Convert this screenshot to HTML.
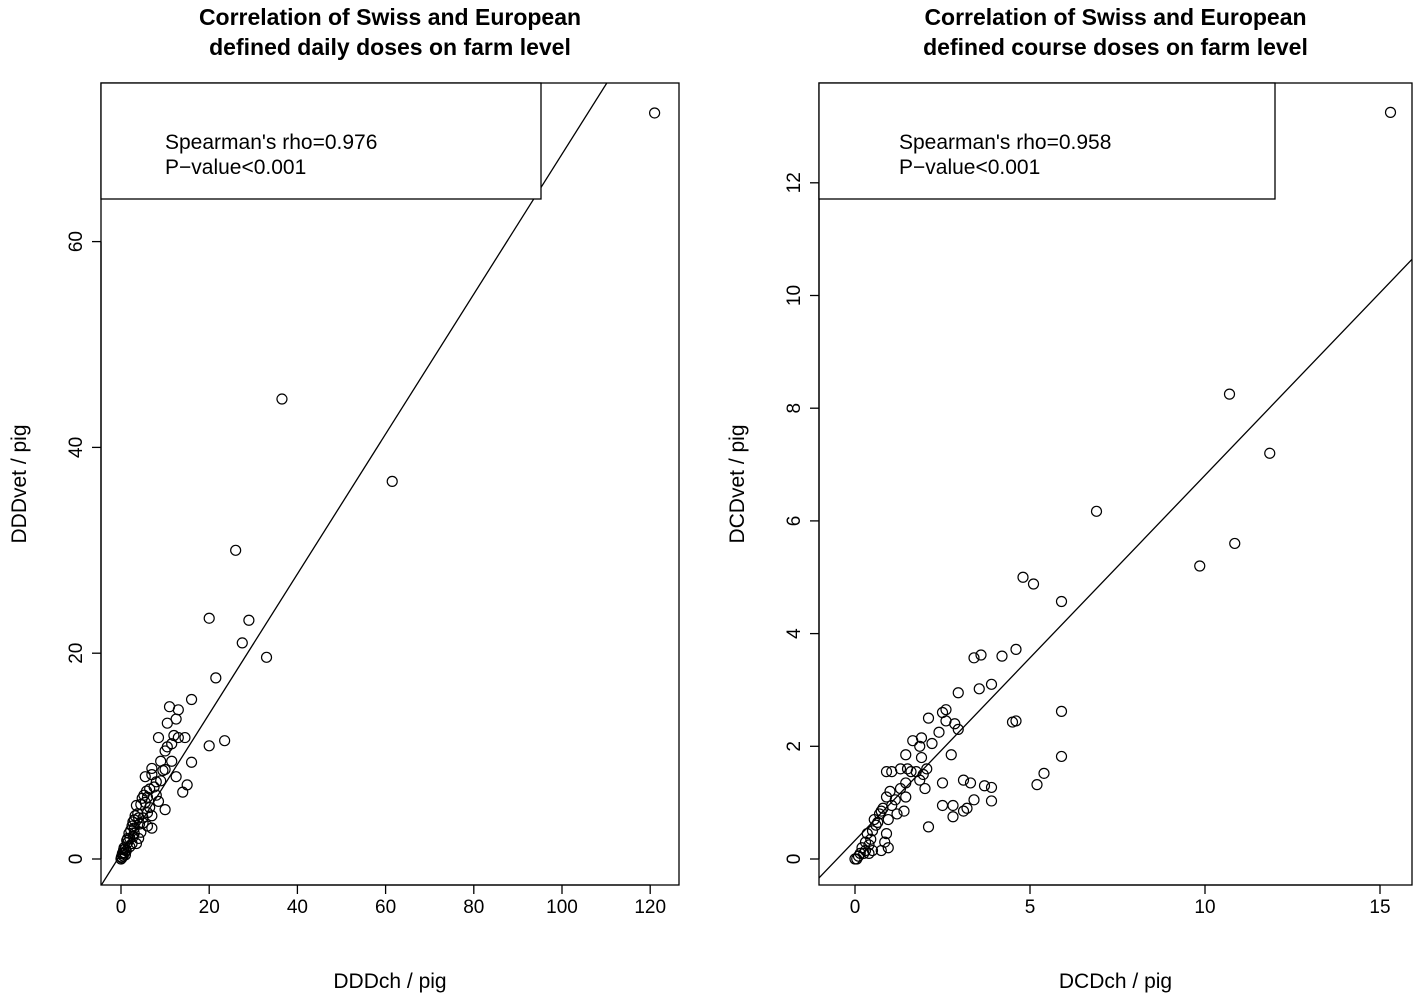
<!DOCTYPE html>
<html><head><meta charset="utf-8"><style>
body{margin:0;background:#fff}
svg{display:block;font-family:"Liberation Sans",Arial,sans-serif}
</style></head><body>
<svg id="s" width="1418" height="996" viewBox="0 0 1418 996"></svg>
<script>
const leftX=[121,36.5,61.5,26,20,29,27.5,21.5,33,16,23.5,20,16,15,14,11,13,12.5,10.5,12,14.5,13,11.5,10.5,8.5,10,11.5,9,12.5,10,7,7,5.5,9,8.5,10,6,5.5,4.5,3.5,6,7,5,4,3,2.5,3,6,7,4,2,1.5,2,1,0.8,0.5,0.2,0,1.2,2.5,3.5,4.5,3,5,6.5,7.5,8,3.8,2.8,1.8,0.6,1,0.3,1.5,2.2,4.2,5.2,6.5,8,9.5,0.1,0.4,0.7,1.3,2.7,3.2,4.8,5.8];
const leftY=[72.5,44.7,36.7,30,23.4,23.2,21,17.6,19.6,15.5,11.5,11,9.4,7.2,6.5,14.8,14.5,13.6,13.2,12,11.8,11.8,11.2,10.9,11.8,10.5,9.5,9.5,8,8.7,8.8,8.2,8,7.6,5.6,4.8,6,5.5,5.3,5.2,4.5,4.2,4,4,3.8,3.2,2.5,3.2,3,2,2,1.6,1.2,1,0.6,0.3,0.1,0,0.8,1.5,1.5,2.6,3,3.5,6.8,7,6.2,4.4,2.2,2.5,0.9,0.4,0.5,2,2.8,3.4,6.2,5,7.5,8.6,0.2,0.6,1.1,1.8,3.6,4.2,5.9,6.6];
const rightX=[15.3,10.7,11.85,10.85,9.85,6.9,4.8,5.1,5.9,4.6,3.6,3.4,4.2,3.9,3.55,2.95,4.5,4.6,5.9,5.9,5.4,5.2,3.9,3.7,3.9,3.4,3.1,3.3,3.2,3.1,2.8,2.8,2.5,2.5,2.1,2.75,2.85,2.95,2.5,2.6,2.6,2.4,2.1,2.2,1.9,1.65,1.85,1.9,2.05,1.75,1.95,1.85,2.0,1.45,1.5,1.3,1.6,1.05,0.9,1.45,1.3,1.45,1.0,1.15,0.9,1.4,1.2,1.05,0.95,0.8,0.9,0.85,0.95,0.75,0.7,0.6,0.5,0.45,0.4,0.35,0.3,0.2,0.15,0.1,0.05,0,0.25,0.5,0.55,0.65,0.75,0.3,0.4];
const rightY=[13.25,8.25,7.2,5.6,5.2,6.17,5,4.88,4.57,3.72,3.62,3.57,3.6,3.1,3.02,2.95,2.43,2.45,2.62,1.82,1.52,1.32,1.27,1.3,1.03,1.05,1.4,1.35,0.9,0.85,0.95,0.75,0.95,1.35,0.57,1.85,2.4,2.3,2.6,2.65,2.45,2.25,2.5,2.05,2.15,2.1,2.0,1.8,1.6,1.55,1.5,1.4,1.25,1.85,1.6,1.6,1.55,1.55,1.55,1.35,1.25,1.1,1.2,1.05,1.1,0.85,0.8,0.95,0.7,0.9,0.45,0.3,0.2,0.15,0.8,0.6,0.5,0.35,0.25,0.45,0.3,0.2,0.1,0.05,0,0,0.1,0.15,0.7,0.65,0.85,0.15,0.1];
const leftXTicks=[0,20,40,60,80,100,120], leftYTicks=[0,20,40,60];
const rightXTicks=[0,5,10,15], rightYTicks=[0,2,4,6,8,10,12];
const leftFit=[0.5,0.68], rightFit=[0.33,0.648];

const svg=document.getElementById('s');
const NS='http://www.w3.org/2000/svg';
function mk(t,a,p){const e=document.createElementNS(NS,t);for(const k in a)e.setAttribute(k,a[k]);(p||svg).appendChild(e);return e;}

function panel(o){
  const g=mk('g',{});
  
  
  const sx=v=>o.x0px+(v-0)*o.kx, sy=v=>o.y0px-v*o.ky;
  const box=mk('rect',{x:o.L,y:o.T,width:o.R-o.L,height:o.B-o.T,fill:'none',stroke:'#000','stroke-width':1.3},g);
  
  const t=mk('text',{x:(o.L+o.R)/2,y:25,'text-anchor':'middle','font-size':23,'font-weight':'bold'},g);
  
  const t1=mk('tspan',{x:(o.L+o.R)/2,dy:0},t);t1.textContent=o.title[0];
  const t2=mk('tspan',{x:(o.L+o.R)/2,dy:30},t);t2.textContent=o.title[1];
  const xa=mk('g',{},g);
  const xt=o.xTicks;
  mk('line',{x1:sx(xt[0]),x2:sx(xt[xt.length-1]),y1:o.B,y2:o.B,stroke:'#000','stroke-width':1.3},xa);
  xt.forEach(v=>{mk('line',{x1:sx(v),x2:sx(v),y1:o.B,y2:o.B+9,stroke:'#000','stroke-width':1.3},xa);
    const l=mk('text',{x:sx(v),y:o.B+28,'text-anchor':'middle','font-size':19},xa);l.textContent=v;
    });
  const xl=mk('text',{x:(o.L+o.R)/2,y:988,'text-anchor':'middle','font-size':21},g);xl.textContent=o.xlab;
  
  const ya=mk('g',{},g);
  const yt=o.yTicks;
  mk('line',{x1:o.L,x2:o.L,y1:sy(yt[0]),y2:sy(yt[yt.length-1]),stroke:'#000','stroke-width':1.3},ya);
  yt.forEach(v=>{mk('line',{x1:o.L,x2:o.L-9,y1:sy(v),y2:sy(v),stroke:'#000','stroke-width':1.3},ya);
    const l=mk('text',{x:o.L-19,y:sy(v),'text-anchor':'middle','font-size':19,transform:`rotate(-90 ${o.L-19} ${sy(v)})`},ya);l.textContent=v;
    });
  const yl=mk('text',{x:o.L-75,y:(o.T+o.B)/2,'text-anchor':'middle','font-size':21,transform:`rotate(-90 ${o.L-75} ${(o.T+o.B)/2})`},g);yl.textContent=o.ylab;
  
  const cid='c'+o.name;
  const cp=mk('clipPath',{id:cid},g);mk('rect',{x:o.L,y:o.T,width:o.R-o.L,height:o.B-o.T},cp);
  const pts=mk('g',{'clip-path':`url(#${cid})`},g);
  o.xs.forEach((x,i)=>{const c=mk('circle',{cx:sx(x),cy:sy(o.ys[i]),r:5,fill:'none',stroke:'#000','stroke-width':1.2},pts);
    });
  const xmin=(o.L-o.x0px)/o.kx, xmax=(o.R-o.x0px)/o.kx;
  const fl=mk('line',{x1:sx(xmin),y1:sy(o.fit[0]+o.fit[1]*xmin),x2:sx(xmax),y2:sy(o.fit[0]+o.fit[1]*xmax),stroke:'#000','stroke-width':1.3,'clip-path':`url(#${cid})`},g);
  
  const lg=mk('g',{},g);
  mk('rect',{x:o.L,y:o.T,width:o.legW,height:116,fill:'#fff',stroke:'#000','stroke-width':1.3},lg);
  const a=mk('text',{x:o.L+o.legPad,y:149,'font-size':21},lg);a.textContent=o.rho;
  const b=mk('text',{x:o.L+o.legPad,y:174,'font-size':21},lg);b.textContent='P\u2212value<0.001';
}
panel({name:'left-panel',L:101,R:679,T:83,B:885,x0px:121,kx:4.41,y0px:859,ky:10.29,
  xTicks:leftXTicks,yTicks:leftYTicks,xs:leftX,ys:leftY,fit:leftFit,legW:440,legPad:64,
  title:['Correlation of Swiss and European','defined daily doses on farm level'],
  xlab:'DDDch / pig',ylab:'DDDvet / pig',rho:"Spearman's rho=0.976"});
panel({name:'right-panel',L:819,R:1412,T:83,B:885,x0px:855,kx:35,y0px:859,ky:56.35,
  xTicks:rightXTicks,yTicks:rightYTicks,xs:rightX,ys:rightY,fit:rightFit,legW:456,legPad:80,
  title:['Correlation of Swiss and European','defined course doses on farm level'],
  xlab:'DCDch / pig',ylab:'DCDvet / pig',rho:"Spearman's rho=0.958"});
</script>
</body></html>
